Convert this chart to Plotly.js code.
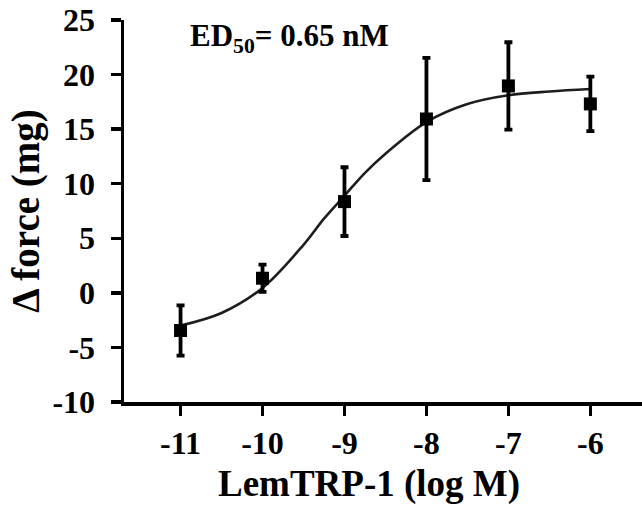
<!DOCTYPE html>
<html>
<head>
<meta charset="utf-8">
<script src="https://cdn.plot.ly/plotly-3.0.1.min.js"></script>
<style>html,body{margin:0;padding:0;background:#fff;}#chart{width:642px;height:508px;}</style>
</head>
<body>
<div id="chart"></div>
<script>
// Measured data: log concentration vs change in force (mean ± SEM)
var logConc = [-11, -10, -9, -8, -7, -6];
var forceMean = [-3.45, 1.34, 8.36, 15.93, 18.96, 17.31];
var forceErr = [2.3, 1.25, 3.15, 5.6, 4.0, 2.5];

// Fitted curve, points
var fitX = [-11, -10.5, -10, -9.5, -9.25, -9, -8.75, -8.5, -8, -7.5, -7, -6.5, -6];
var fitY = [-3.0, -1.85, 0.45, 4.4, 6.8, 8.9, 11.0, 12.75, 15.65, 17.3, 18.1, 18.45, 18.68];

var xTickVals = [-11, -10, -9, -8, -7, -6];
var xTickText = ['-11', '-10', '-9', '-8', '-7', '-6'];
var yTickVals = [-10, -5, 0, 5, 10, 15, 20, 25];
var yTickText = ['-10', '-5', '0', '5', '10', '15', '20', '25'];

var serif = 'Liberation Serif, Times New Roman, serif';

var traces = [
  {
    x: fitX, y: fitY, type: 'scatter', mode: 'lines',
    line: {color: '#1e1e1e', width: 2.6, shape: 'spline', smoothing: 1},
    hoverinfo: 'skip', showlegend: false
  },
  {
    x: logConc, y: forceMean, type: 'scatter', mode: 'markers',
    marker: {symbol: 'square', size: 13, color: '#000'},
    error_y: {type: 'data', array: forceErr, visible: true, color: '#000', thickness: 3.8, width: 4},
    showlegend: false
  }
];

var layout = {
  width: 642, height: 508,
  margin: {l: 124, r: 0, t: 20, b: 106, pad: 0},
  paper_bgcolor: '#fff', plot_bgcolor: '#fff',
  font: {family: serif, size: 32, color: '#000', weight: 700},
  xaxis: {
    range: [-11.69, -5.37],
    tickmode: 'array', tickvals: xTickVals, ticktext: xTickText,
    ticks: 'outside', ticklen: 10, tickwidth: 3.5, tickcolor: '#000',
    showline: true, linewidth: 3.5, linecolor: '#000',
    showgrid: false, zeroline: false,
    tickfont: {family: serif, size: 32, weight: 700}
  },
  yaxis: {
    range: [-10, 25],
    tickmode: 'array', tickvals: yTickVals, ticktext: yTickText,
    ticks: 'outside', ticklen: 10, tickwidth: 3.5, tickcolor: '#000',
    ticklabelstandoff: 9,
    showline: true, linewidth: 3.5, linecolor: '#000',
    showgrid: false, zeroline: false,
    tickfont: {family: serif, size: 32, weight: 700},
    title: {text: 'Δ force (mg)', font: {family: serif, size: 39, weight: 700}, standoff: 2}
  },
  annotations: [
    {
      xref: 'paper', yref: 'paper', x: 0.473, y: -0.214, yanchor: 'middle', xanchor: 'center',
      text: 'LemTRP-1 (log M)', showarrow: false,
      font: {family: serif, size: 37, weight: 700}
    },
    {
      xref: 'x', yref: 'y', x: -10.91, y: 23.35, xanchor: 'left', yanchor: 'middle',
      text: 'ED<sub>50</sub>= 0.65 nM', showarrow: false,
      font: {family: serif, size: 31, weight: 700}
    }
  ]
};

Plotly.newPlot('chart', traces, layout, {displayModeBar: false, staticPlot: true});
</script>
</body>
</html>
